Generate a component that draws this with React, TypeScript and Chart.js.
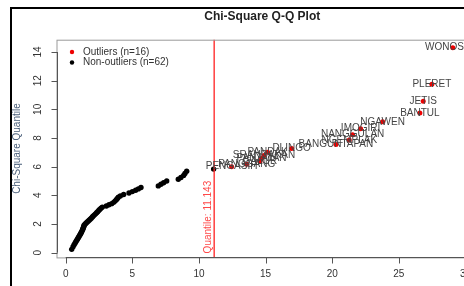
import { useEffect, useRef } from "react";
import { Chart, registerables } from "chart.js";

Chart.register(...registerables);

// Non-outliers: Mahalanobis distance (x) vs chi-square quantile (y)
const normalX = [
  0.45, 0.55, 0.63, 0.7, 0.76, 0.82, 0.88, 0.93, 0.98, 1.03,
  1.08, 1.12, 1.16, 1.2, 1.25, 1.28, 1.31, 1.34, 1.36, 1.38,
  1.45, 1.52, 1.6, 1.68, 1.76, 1.84, 1.92, 2.0, 2.07, 2.16,
  2.24, 2.32, 2.4, 2.48, 2.55, 2.65, 2.75, 3.05, 3.25, 3.45,
  3.6, 3.7, 3.8, 3.88, 3.95, 4.1, 4.35, 4.75, 5.0, 5.25,
  5.45, 5.65, 6.95, 7.15, 7.35, 7.58, 8.45, 8.65, 8.85, 8.95,
  9.08, 11.1,
];
const normalY = [
  0.23, 0.42, 0.55, 0.66, 0.76, 0.85, 0.94, 1.02, 1.1, 1.18,
  1.25, 1.32, 1.39, 1.46, 1.57, 1.64, 1.71, 1.78, 1.85, 1.92,
  1.99, 2.06, 2.13, 2.2, 2.27, 2.34, 2.41, 2.49, 2.56, 2.64,
  2.71, 2.79, 2.86, 2.94, 3.02, 3.1, 3.18, 3.26, 3.34, 3.42,
  3.51, 3.6, 3.69, 3.78, 3.87, 3.96, 4.06, 4.16, 4.26, 4.36,
  4.45, 4.55, 4.66, 4.77, 4.88, 5.0, 5.12, 5.25, 5.39, 5.53,
  5.68, 5.83,
];

const outlierNames = [
  "PENGASIH", "PANGGANG", "GALUR", "PANJATAN", "SRANDAKAN", "PANDAK",
  "DLINGO", "BANGUNTAPAN", "NGEMPLAK", "NANGGULAN", "IMOGIRI", "NGAWEN",
  "BANTUL", "JETIS", "PLERET", "WONOSARI",
];
const outlierX = [
  12.45, 13.58, 14.58, 14.7, 14.88, 15.15,
  16.95, 20.28, 21.28, 21.53, 22.13, 23.78,
  26.58, 26.83, 27.48, 29.05,
];
const outlierY = [
  6.0, 6.17, 6.36, 6.57, 6.78, 7.0,
  7.27, 7.55, 7.87, 8.23, 8.65, 9.13,
  9.75, 10.56, 11.75, 14.3,
];

const xTicks = [0, 5, 10, 15, 20, 25, 30];
const yTicks = [0, 2, 4, 6, 8, 10, 12, 14];
const cutoff = 11.143;
const titleText = "Chi-Square Q-Q Plot";
const yLabel = "Chi-Square Quantile";
const legendItems = ["Outliers (n=16)", "Non-outliers (n=62)"];

const FONT = "'Liberation Sans', Arial, sans-serif";

const decorPlugin = {
  id: "decor",
  afterDatasetsDraw(chart: any) {
    const { ctx, chartArea } = chart;
    const xs = chart.scales.x;
    const ys = chart.scales.y;
    const { left, right, top, bottom } = chartArea;
    ctx.save();

    // vertical cut-off line
    const cx = xs.getPixelForValue(cutoff);
    ctx.strokeStyle = "rgba(255,40,40,0.9)";
    ctx.lineWidth = 1.5;
    ctx.beginPath();
    ctx.moveTo(cx, top);
    ctx.lineTo(cx, bottom);
    ctx.stroke();
    ctx.save();
    ctx.translate(cx - 6, bottom - 4);
    ctx.rotate(-Math.PI / 2);
    ctx.fillStyle = "#ff4848";
    ctx.font = `10px ${FONT}`;
    ctx.textAlign = "left";
    ctx.textBaseline = "middle";
    ctx.fillText("Quantile: " + cutoff.toFixed(3), 0, 0);
    ctx.restore();

    // point labels
    ctx.fillStyle = "#444";
    ctx.font = `10px ${FONT}`;
    ctx.textAlign = "center";
    ctx.textBaseline = "middle";
    outlierNames.forEach((n, i) => {
      ctx.fillText(n, xs.getPixelForValue(outlierX[i]), ys.getPixelForValue(outlierY[i]));
    });

    // box
    ctx.strokeStyle = "#9a9a9a";
    ctx.lineWidth = 1;
    ctx.strokeRect(left + 0.5, top + 0.5, right - left, bottom - top);

    // axes
    ctx.strokeStyle = "#555";
    ctx.fillStyle = "#333";
    ctx.font = `10px ${FONT}`;
    const by = Math.round(bottom) + 0.5;
    ctx.beginPath();
    ctx.moveTo(xs.getPixelForValue(xTicks[0]), by);
    ctx.lineTo(xs.getPixelForValue(xTicks[xTicks.length - 1]), by);
    xTicks.forEach((t) => {
      const px = Math.round(xs.getPixelForValue(t)) + 0.5;
      ctx.moveTo(px, by);
      ctx.lineTo(px, by + 6);
    });
    ctx.stroke();
    ctx.textAlign = "center";
    ctx.textBaseline = "middle";
    xTicks.forEach((t) => {
      ctx.fillText(String(t), xs.getPixelForValue(t), by + 17);
    });

    const lx = Math.round(left) + 0.5;
    ctx.beginPath();
    ctx.moveTo(lx, ys.getPixelForValue(yTicks[0]));
    ctx.lineTo(lx, ys.getPixelForValue(yTicks[yTicks.length - 1]));
    yTicks.forEach((t) => {
      const py = Math.round(ys.getPixelForValue(t)) + 0.5;
      ctx.moveTo(lx, py);
      ctx.lineTo(lx - 6, py);
    });
    ctx.stroke();
    yTicks.forEach((t) => {
      ctx.save();
      ctx.translate(lx - 19, ys.getPixelForValue(t));
      ctx.rotate(-Math.PI / 2);
      ctx.fillText(String(t), 0, 0);
      ctx.restore();
    });

    // y axis title
    ctx.save();
    ctx.translate(17, (top + bottom) / 2);
    ctx.rotate(-Math.PI / 2);
    ctx.fillStyle = "#4a5f7a";
    ctx.font = `10px ${FONT}`;
    ctx.fillText(yLabel, 0, 0);
    ctx.restore();

    // title
    ctx.fillStyle = "#222";
    ctx.font = `bold 12px ${FONT}`;
    ctx.fillText(titleText, (left + right) / 2, 17);

    // legend
    const colors = ["#ee0000", "#000000"];
    ctx.font = `10px ${FONT}`;
    ctx.textAlign = "left";
    legendItems.forEach((t, i) => {
      const y = 52 + i * 10.5;
      ctx.fillStyle = colors[i];
      ctx.beginPath();
      ctx.arc(72, y, 2.2, 0, Math.PI * 2);
      ctx.fill();
      ctx.fillStyle = "#333";
      ctx.fillText(t, 83, y);
    });

    // outer frame
    ctx.strokeStyle = "#000";
    ctx.lineWidth = 2;
    ctx.beginPath();
    ctx.moveTo(11, 300);
    ctx.lineTo(11, 8);
    ctx.lineTo(500, 8);
    ctx.stroke();

    ctx.restore();
  },
};

export default function App() {
  const ref = useRef<HTMLCanvasElement | null>(null);
  useEffect(() => {
    if (!ref.current) return;
    const chart = new Chart(ref.current, {
      type: "scatter",
      data: {
        datasets: [
          {
            label: "Non-outliers",
            data: normalX.map((x, i) => ({ x, y: normalY[i] })),
            backgroundColor: "#000",
            borderWidth: 0,
            pointRadius: 2.7,
          },
          {
            label: "Outliers",
            data: outlierX.map((x, i) => ({ x, y: outlierY[i] })),
            backgroundColor: "#ee0000",
            borderWidth: 0,
            pointRadius: 2.5,
          },
        ],
      },
      options: {
        animation: false,
        responsive: false,
        layout: { padding: { left: 56.5, top: 39.7, right: 12, bottom: 28.6 } },
        scales: {
          x: { type: "linear", min: -0.69, max: 30.19, display: false },
          y: { type: "linear", min: -0.33, max: 14.86, display: false },
        },
        plugins: {
          legend: { display: false },
          title: { display: false },
          tooltip: { enabled: false },
        },
      },
      plugins: [decorPlugin],
    });
    return () => chart.destroy();
  }, []);
  return (
    <div
      style={{
        position: "fixed",
        left: 0,
        top: 0,
        width: 464,
        height: 286,
        overflow: "hidden",
        background: "#fff",
      }}
    >
      <canvas ref={ref} width={480} height={286} style={{ width: 480, height: 286 }} />
    </div>
  );
}
